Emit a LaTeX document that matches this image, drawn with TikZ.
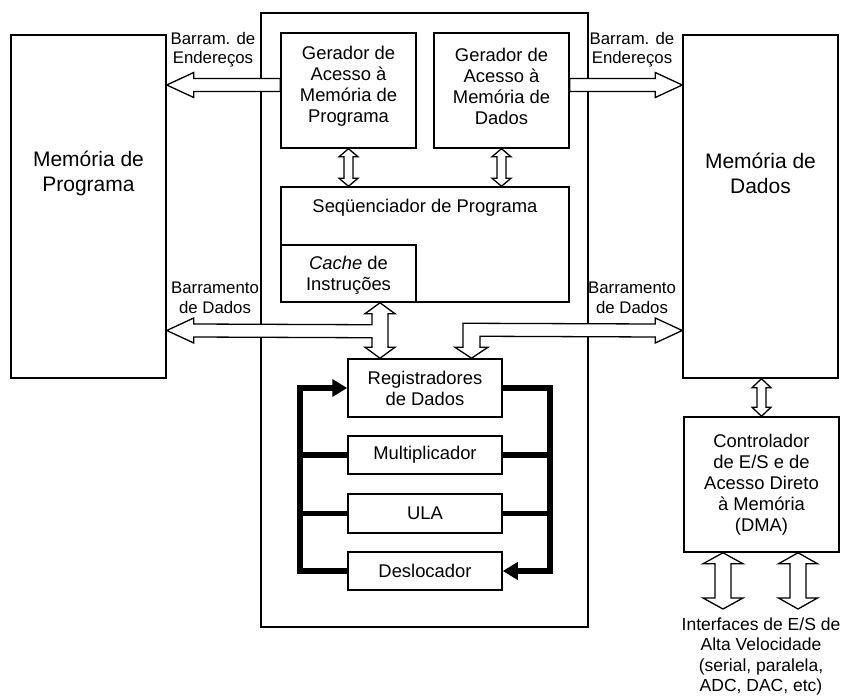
\documentclass[tikz,border=0pt]{standalone}
\usepackage{fontspec}
\setmainfont{Liberation Sans}
\usetikzlibrary{calc,arrows.meta}

% hollow double-headed vertical bus: #1 top point, #2 bottom reference,
% #3 head half-width, #4 shaft half-width, #5 head length
\newcommand\vbus[5]{%
  \path[bus] (#1) -- ++(#3,#5) -- ++(#4-#3,0) -- ($(#1 |- #2)+(#4,-#5)$)
    -- ++(#3-#4,0) -- (#1 |- #2) -- ++(-#3,-#5) -- ++(#3-#4,0)
    -- ($(#1)+(-#4,#5)$) -- ++(#4-#3,0) -- cycle;}

% hollow horizontal bus arrow: #1 tip, #2 tail reference, #3 = 1 (points left) or -1 (points right)
\newcommand\hbus[3]{%
  \path[bus] (#1) -- ++(#3*27,-12.5) -- ++(0,6) -- ($(#2 |- #1)+(0,-6.5)$)
    -- ++(0,13) -- ($(#1)+(#3*27,6.5)$) -- ++(0,6) -- cycle;}

\begin{document}
\begin{tikzpicture}[x=1pt,y=-1pt,
  box/.style={draw,line width=1.5pt,fill=white,inner sep=0pt,align=center,
    font=\fontsize{18.4}{21}\selectfont},
  txt/.style={align=center,inner sep=0pt,font=\fontsize{18.4}{21}\selectfont},
  lbl/.style={align=center,inner sep=0pt,font=\fontsize{16.8}{19.5}\selectfont},
  big/.style={align=center,inner sep=0pt,font=\fontsize{21}{25}\selectfont},
  bus/.style={draw,fill=white,line width=1.3pt,line join=miter},
  ring/.style={line width=5.5pt,line join=miter},
  endtip/.style={-{Triangle[length=15pt,width=17pt]}},
]
\useasboundingbox (0,0) rectangle (844,696);

% memories
\node[box,minimum width=155pt,minimum height=343pt] (mp) at (88.5,206.5) {};
\node[big] (mptxt) at (88.5,173.5) {Memória de\\Programa};
\node[box,minimum width=155pt,minimum height=343pt] (md) at (760.5,206.5) {};
\node[big] (mdtxt) at (760.5,173.5) {Memória de\\Dados};

% processor
\node[box,minimum width=327pt,minimum height=614pt] (cpu) at (424.5,320) {};
\node[box,minimum width=135pt,minimum height=115pt] (gp) at (348.5,90.5) {};
\node[txt] (gptxt) at (348.5,86) {Gerador de\\Acesso à\\Memória de\\Programa};
\node[box,minimum width=135pt,minimum height=115pt] (gd) at (501.5,90.5) {};
\node[txt] (gdtxt) at (501.5,86) {Gerador de\\Acesso à\\Memória de\\Dados};
\node[box,minimum width=288pt,minimum height=115pt] (seq) at (425,244.5) {};
\node[txt] (seqtxt) at (425,208) {Seqüenciador de Programa};
\node[box,minimum width=135pt,minimum height=57pt] (cache) at (348.5,273.5) {};
\node[txt] (cachetxt) at (348.5,275) {\textit{Cache} de\\Instruções};

\node[box,minimum width=154pt,minimum height=58pt] (reg) at (425,388) {Registradores\\de Dados};
\node[box,minimum width=154pt,minimum height=38pt] (mul) at (425,455) {Multiplicador};
\node[box,minimum width=154pt,minimum height=39pt] (ula) at (425,513.5) {ULA};
\node[box,minimum width=154pt,minimum height=38pt] (desl) at (425,571) {Deslocador};

% I/O and DMA controller
\node[box,minimum width=155pt,minimum height=135pt] (dma) at (761.5,484.5)
  {Controlador\\de E/S e de\\Acesso Direto\\à Memória\\(DMA)};
\node[lbl,font=\fontsize{17.5}{20.5}\selectfont] (iotxt) at (761,656.5)
  {Interfaces de E/S de\\Alta Velocidade\\(serial, paralela,\\ADC, DAC, etc)};

% bus labels
\node[lbl] (abl) at (213,49.5) {Barram. de\\Endereços};
\node[lbl] (abr) at (632,49.5) {Barram. de\\Endereços};
\node[lbl] (dbltxt) at (215,298) {Barramento\\de Dados};
\node[lbl] (dbrtxt) at (632,298) {Barramento\\de Dados};

% data path loop
\coordinate (lx) at (300,0);
\coordinate (rx) at (550,0);
\draw[ring,endtip] (desl.west) -- (desl.west -| lx) -- (reg.west -| lx) -- (reg.west);
\draw[ring,endtip] (reg.east) -- (reg.east -| rx) -- (desl.east -| rx) -- (desl.east);
\draw[ring] (mul.west) -- (mul.west -| lx);
\draw[ring] (mul.east) -- (mul.east -| rx);
\draw[ring] (ula.west) -- (ula.west -| lx);
\draw[ring] (ula.east) -- (ula.east -| rx);

% address buses
\coordinate (ab1) at (mp.east |- 0,85);
\coordinate (ab2) at (md.west |- 0,85);
\hbus{ab1}{gp.west}{1}
\hbus{ab2}{gd.east}{-1}

% generators to sequencer
\vbus{gp.south}{seq.north}{9.5}{4.5}{8}
\vbus{gd.south}{seq.north}{9.5}{4.5}{8}

% program data bus: cache <-> registers, branch to program memory
\coordinate (dv) at (380,0);
\coordinate (T) at (dv |- seq.south);
\coordinate (B) at (dv |- reg.north);
\coordinate (dbl) at (mp.east |- 0,330.5);
\path[bus] (T) -- ++(15,11) -- ++(-7,0) -- ($(B)+(8,-11)$) -- ++(7,0) -- (B)
  -- ++(-15,-11) -- ++(7,0) -- ($(T)+(-8,35)$) -- ($(dbl)+(27,6.5)$)
  -- ($(dbl)+(27,12.5)$) -- (dbl) -- ($(dbl)+(27,-12.5)$) -- ($(dbl)+(27,-6.5)$)
  -- ($(T)+(-8,22)$) -- ($(T)+(-8,11)$) -- ++(-7,0) -- cycle;

% data memory bus into registers
\coordinate (rv) at (471.5,0);
\coordinate (B2) at (rv |- reg.north);
\coordinate (dbr) at (md.west |- 0,330.5);
\path[bus] (dbr) -- ++(-27,-12.5) -- ++(0,6) -- ($(B2)+(-8.5,-35)$)
  -- ($(B2)+(-8.5,-11)$) -- ++(-8,0) -- (B2) -- ($(B2)+(16.5,-11)$)
  -- ++(-8,0) -- ($(B2)+(8.5,-22)$) -- ($(dbr)+(-27,6.5)$) -- ++(0,6) -- cycle;

% memory to DMA, DMA to interfaces
\coordinate (mdc) at (dma.north |- md.south);
\vbus{mdc}{dma.north}{9.5}{4.5}{9}
\coordinate (io1) at (723,609);
\coordinate (io2) at (798,609);
\coordinate (io1t) at (io1 |- dma.south);
\coordinate (io2t) at (io2 |- dma.south);
\vbus{io1t}{io1}{20}{8}{11}
\vbus{io2t}{io2}{19.5}{8}{11}
\end{tikzpicture}
\end{document}
